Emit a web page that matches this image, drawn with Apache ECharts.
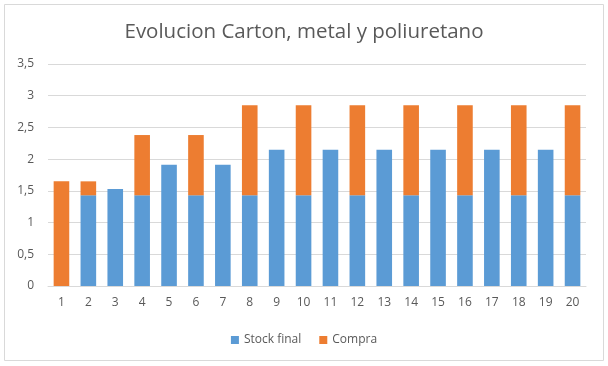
<!DOCTYPE html>
<html><head><meta charset="utf-8">
<script src="https://cdn.jsdelivr.net/npm/echarts@6/dist/echarts.min.js"></script>
<style>html,body{margin:0;padding:0;background:#fff}#c{width:608px;height:366px}</style>
</head><body><div id="c"></div>
<script>
const categories = ['1','2','3','4','5','6','7','8','9','10','11','12','13','14','15','16','17','18','19','20'];
const stockFinal = [0,1.43,1.53,1.43,1.91,1.43,1.91,1.43,2.15,1.43,2.15,1.43,2.15,1.43,2.15,1.43,2.15,1.43,2.15,1.43];
const compra = [1.65,0.22,0,0.95,0,0.95,0,1.42,0,1.42,0,1.42,0,1.42,0,1.42,0,1.42,0,1.42];
const seriesNames = ['Stock final','Compra'];
const chart = echarts.init(document.getElementById('c'));
const font = 'Open Sans, Liberation Sans, sans-serif';
chart.setOption({
  animation:false,
  title:{text:'Evolucion Carton, metal y poliuretano',left:'center',top:17,
    textStyle:{fontFamily:font,fontSize:20.5,fontWeight:'normal',color:'#595959'}},
  graphic:[{type:'rect',shape:{x:4.5,y:4.5,width:599,height:356},style:{fill:'none',stroke:'#d9d9d9',lineWidth:1},silent:true}],
  legend:{bottom:15,itemWidth:8,itemHeight:8,itemGap:18,icon:'rect',
    textStyle:{fontFamily:font,fontSize:12,color:'#595959'},data:seriesNames},
  grid:{left:48,right:22,top:64,bottom:80},
  xAxis:{type:'category',data:categories,
    axisLine:{lineStyle:{color:'#d9d9d9'}},axisTick:{show:false},
    axisLabel:{fontFamily:font,fontSize:12,color:'#595959',margin:11}},
  yAxis:{type:'value',min:0,max:3.5,interval:0.5,
    axisLabel:{fontFamily:font,fontSize:12,color:'#595959',margin:14,
      formatter:v=>String(v).replace('.',',')},
    splitLine:{lineStyle:{color:'#d9d9d9'}},axisLine:{show:false},axisTick:{show:false}},
  series:[
    {name:seriesNames[0],type:'bar',stack:'a',data:stockFinal,barCategoryGap:'42%',itemStyle:{color:'#5b9bd5'}},
    {name:seriesNames[1],type:'bar',stack:'a',data:compra,itemStyle:{color:'#ed7d31'}}
  ]
});
</script></body></html>
